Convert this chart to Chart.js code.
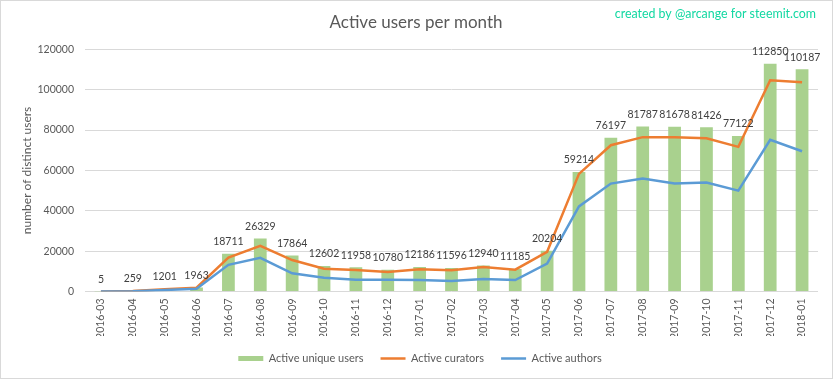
<!DOCTYPE html>
<html>
<head>
<meta charset="utf-8">
<script src="https://cdn.jsdelivr.net/npm/chart.js@4/dist/chart.umd.min.js"></script>
<style>
  html, body { margin: 0; padding: 0; background: #ffffff; }
  #c { display: block; }
</style>
</head>
<body>
<canvas id="c" width="833" height="379"></canvas>
<script>
const months = ["2016-03","2016-04","2016-05","2016-06","2016-07","2016-08","2016-09","2016-10","2016-11","2016-12",
  "2017-01","2017-02","2017-03","2017-04","2017-05","2017-06","2017-07","2017-08","2017-09","2017-10","2017-11","2017-12","2018-01"];
const uniqueUsers = [5, 259, 1201, 1963, 18711, 26329, 17864, 12602, 11958, 10780, 12186, 11596, 12940, 11185, 20204, 59214, 76197, 81787, 81678, 81426, 77122, 112850, 110187];
const curators = [3, 240, 1100, 1900, 16800, 22600, 15600, 11300, 10700, 9700, 11000, 10500, 12100, 10800, 19700, 58300, 72500, 76500, 76400, 76000, 71700, 104700, 103700];
const authors = [3, 150, 700, 1400, 13200, 16700, 9000, 6800, 5800, 5800, 5700, 5200, 6200, 5700, 13800, 42200, 53500, 56000, 53500, 54000, 50000, 75200, 69500];
const yTicks = [0, 20000, 40000, 60000, 80000, 100000, 120000];

const FONT = "Lato, 'Open Sans', sans-serif";
const GREY = "#595959";

const extras = {
  id: "extras",
  afterLayout(chart) {
    if (chart.titleBlock) { chart.titleBlock.left += 7; chart.titleBlock.right += 7; }
    if (chart.legend) { chart.legend.left += 11; chart.legend.right += 11; }
  },
  afterDatasetsDraw(chart) {
    const ctx = chart.ctx;
    const meta = chart.getDatasetMeta(0);
    ctx.save();
    ctx.font = "10.5px " + FONT;
    ctx.fillStyle = "#404040";
    ctx.textAlign = "center";
    ctx.textBaseline = "middle";
    meta.data.forEach((el, i) => {
      ctx.fillText(String(uniqueUsers[i]), el.x, el.y - 12);
    });
    ctx.restore();
  },
  afterDraw(chart) {
    const ctx = chart.ctx;
    ctx.save();
    ctx.font = "12.4px " + FONT;
    ctx.fillStyle = "#12D8A2";
    ctx.textAlign = "right";
    ctx.textBaseline = "middle";
    ctx.fillText("created by @arcange for steemit.com", 816, 14);
    ctx.strokeStyle = "#D9D9D9";
    ctx.lineWidth = 1;
    ctx.strokeRect(0.5, 0.5, 832, 378);
    ctx.restore();
  }
};

new Chart(document.getElementById("c"), {
  type: "bar",
  data: {
    labels: months,
    datasets: [
      {
        type: "bar",
        label: "Active unique users",
        data: uniqueUsers,
        backgroundColor: "#A9D18E",
        borderWidth: 0,
        barPercentage: 0.4,
        categoryPercentage: 1.0,
        pointStyle: "rect",
        order: 3
      },
      {
        type: "line",
        label: "Active curators",
        data: curators,
        borderColor: "#ED7D31",
        backgroundColor: "#ED7D31",
        borderWidth: 2.5,
        pointRadius: 0,
        tension: 0,
        pointStyle: "line",
        order: 2
      },
      {
        type: "line",
        label: "Active authors",
        data: authors,
        borderColor: "#5B9BD5",
        backgroundColor: "#5B9BD5",
        borderWidth: 2.5,
        pointRadius: 0,
        tension: 0,
        pointStyle: "line",
        order: 1
      }
    ]
  },
  options: {
    responsive: false,
    animation: false,
    devicePixelRatio: 1,
    layout: { padding: { top: 0, left: 0, right: 15, bottom: 5 } },
    plugins: {
      tooltip: { enabled: false },
      title: {
        display: true,
        text: "Active users per month",
        color: GREY,
        font: { family: FONT, size: 17, weight: "normal", lineHeight: 1.2 },
        padding: { top: 12, bottom: 17 }
      },
      legend: {
        position: "bottom",
        labels: {
          usePointStyle: true,
          pointStyleWidth: 25,
          boxWidth: 25,
          boxHeight: 5,
          padding: 17,
          color: GREY,
          font: { family: FONT, size: 11 },
          sort: (a, b) => a.datasetIndex - b.datasetIndex
        }
      }
    },
    scales: {
      x: {
        grid: { display: false, drawTicks: false },
        border: { display: false },
        ticks: {
          color: GREY,
          font: { family: FONT, size: 10.5 },
          minRotation: 90,
          maxRotation: 90,
          padding: 7,
          autoSkip: false
        },
        afterFit(scale) { scale.height = 44.5; }
      },
      y: {
        min: 0,
        max: 120000,
        grid: { color: "#D9D9D9", drawTicks: false, lineWidth: 1 },
        border: { display: false },
        afterBuildTicks(scale) { scale.ticks = yTicks.map(v => ({ value: v })); },
        ticks: {
          color: GREY,
          font: { family: FONT, size: 10.5 },
          padding: 11,
          callback: (v) => String(v)
        },
        title: {
          display: true,
          text: "number of distinct users",
          color: GREY,
          font: { family: FONT, size: 12 },
          padding: { top: 20, bottom: 0 }
        },
        afterFit(scale) { scale.width = 85; }
      }
    }
  },
  plugins: [extras]
});
</script>
</body>
</html>
